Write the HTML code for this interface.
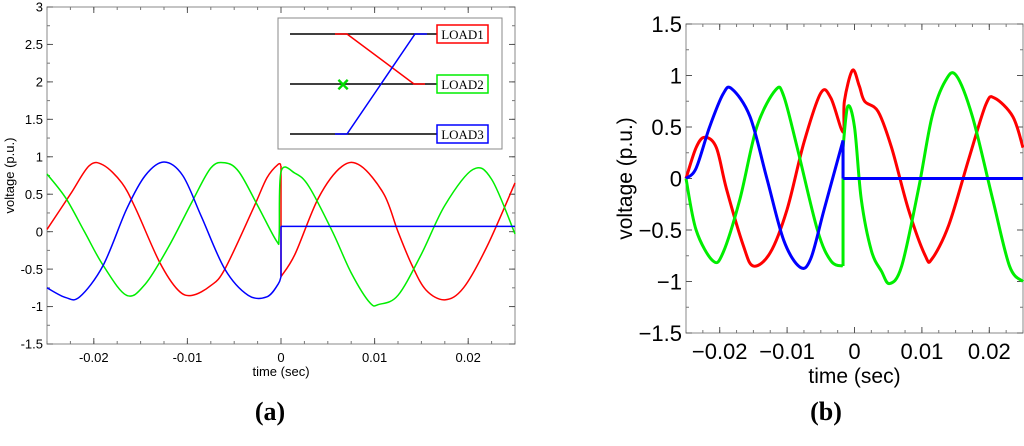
<!DOCTYPE html>
<html><head><meta charset="utf-8"><style>
body{margin:0;background:#fff;}
svg{display:block;font-family:"Liberation Sans",sans-serif;}
</style></head><body>
<svg id="c" width="1024" height="446"></svg>
<script>
const xTicks=[-0.02,-0.01,0,0.01,0.02];
const xTickLabelsA=["-0.02","-0.01","0","0.01","0.02"];
const yTicksA=[-1.5,-1,-0.5,0,0.5,1,1.5,2,2.5,3];
const yTickLabelsA=["-1.5","-1","-0.5","0","0.5","1","1.5","2","2.5","3"];
const yTicksB=[-1.5,-1,-0.5,0,0.5,1,1.5];
const yTickLabelsB=["\u22121.5","\u22121","\u22120.5","0","0.5","1","1.5"];
const xTickLabelsB=["\u22120.02","\u22120.01","0","0.01","0.02"];
const aRedT=[-0.025,-0.0225,-0.0205,-0.019,-0.017,-0.0155,-0.013,-0.011,-0.0095,-0.0075,-0.006,-0.003,-0.0015,-0.0003,0,0,0.0015,0.004,0.0065,0.0085,0.011,0.0125,0.014,0.0155,0.0175,0.0195,0.022,0.025];
const aRedV=[0.03,0.5,0.88,0.89,0.65,0.3,-0.4,-0.78,-0.85,-0.72,-0.5,0.3,0.72,0.9,0.88,-0.6,-0.3,0.45,0.87,0.88,0.5,0.0,-0.45,-0.78,-0.91,-0.75,-0.2,0.65];
const aGreenT=[-0.025,-0.023,-0.021,-0.019,-0.0165,-0.0145,-0.012,-0.0095,-0.0075,-0.006,-0.0045,-0.0025,-0.0005,-0.0002,0,0.0015,0.003,0.0055,0.0075,0.0095,0.0105,0.0125,0.015,0.0175,0.0205,0.0225,0.025];
const aGreenV=[0.77,0.45,0.0,-0.45,-0.85,-0.7,-0.2,0.4,0.85,0.92,0.8,0.35,-0.12,-0.05,0.8,0.78,0.6,0.0,-0.55,-0.95,-0.97,-0.85,-0.3,0.35,0.83,0.7,-0.03];
const aBlueT=[-0.025,-0.023,-0.0215,-0.019,-0.0165,-0.0145,-0.0125,-0.0105,-0.0085,-0.006,-0.0035,-0.0015,-0.0003,0,0,0.025];
const aBlueV=[-0.75,-0.88,-0.87,-0.45,0.3,0.75,0.93,0.75,0.2,-0.5,-0.85,-0.87,-0.7,-0.6,0.07,0.07];
const bRedT=[-0.025,-0.0235,-0.0222,-0.0205,-0.019,-0.0165,-0.015,-0.0125,-0.01,-0.0075,-0.005,-0.0035,-0.0017,-0.0015,-0.0003,0.0007,0.0015,0.0035,0.0055,0.008,0.0105,0.0115,0.014,0.017,0.0195,0.0208,0.0235,0.025];
const bRedV=[0.0,0.3,0.4,0.3,-0.1,-0.65,-0.85,-0.72,-0.3,0.35,0.83,0.78,0.45,0.75,1.05,0.9,0.75,0.65,0.3,-0.3,-0.75,-0.78,-0.45,0.2,0.72,0.78,0.6,0.3];
const bGreenT=[-0.025,-0.0235,-0.021,-0.0195,-0.017,-0.0145,-0.0117,-0.0105,-0.0085,-0.0055,-0.0035,-0.0017,-0.0017,-0.001,0.0,0.001,0.0025,0.004,0.0052,0.007,0.0095,0.0115,0.0135,0.0151,0.0175,0.0205,0.023,0.025];
const bGreenV=[0.0,-0.5,-0.8,-0.72,-0.2,0.5,0.86,0.8,0.3,-0.5,-0.8,-0.85,0.3,0.7,0.5,-0.2,-0.7,-0.9,-1.02,-0.85,-0.1,0.6,0.95,1.0,0.6,-0.2,-0.85,-1.0];
const bBlueT=[-0.025,-0.0235,-0.0215,-0.0195,-0.0182,-0.0155,-0.013,-0.0105,-0.0081,-0.0065,-0.0045,-0.0017,-0.0017,0.025];
const bBlueV=[0.0,0.1,0.5,0.82,0.87,0.6,0.0,-0.6,-0.86,-0.78,-0.3,0.37,0.0,0.0];

const NS="http://www.w3.org/2000/svg";
const svg=document.getElementById('c');
function mk(tag,attrs,parent){const e=document.createElementNS(NS,tag);for(const k in attrs)e.setAttribute(k,attrs[k]);(parent||svg).appendChild(e);return e;}
function smoothPath(pts){
  // split at vertical jumps
  let d="";let segs=[];let cur=[pts[0]];
  for(let i=1;i<pts.length;i++){if(Math.abs(pts[i][0]-pts[i-1][0])<0.01){segs.push(cur);cur=[pts[i-1],pts[i]];segs.push(cur);cur=[pts[i]];}else cur.push(pts[i]);}
  segs.push(cur);
  segs.forEach(s=>{if(s.length<2)return;d+="M"+s[0][0]+","+s[0][1];
    for(let i=0;i<s.length-1;i++){const p0=s[Math.max(0,i-1)],p1=s[i],p2=s[i+1],p3=s[Math.min(s.length-1,i+2)];
      if(s.length===2){d+="L"+p2[0]+","+p2[1];continue;}
      const c1=[p1[0]+(p2[0]-p0[0])/6,p1[1]+(p2[1]-p0[1])/6],c2=[p2[0]-(p3[0]-p1[0])/6,p2[1]-(p3[1]-p1[1])/6];
      d+="C"+c1+" "+c2+" "+p2[0]+","+p2[1];}});
  return d;}
function panel(o){
  const g=mk('g',{});
  const X=t=>o.x0+(t+0.025)/0.05*(o.x1-o.x0);
  const Y=v=>o.y1-(v-o.ymin)/(o.ymax-o.ymin)*(o.y1-o.y0);
  mk('rect',{x:o.x0,y:o.y0,width:o.x1-o.x0,height:o.y1-o.y0,fill:'none',stroke:'#888','stroke-width':1},g);
  // minor ticks
  for(let t=-0.025;t<=0.0251;t+=0.0025){const x=X(t);mk('line',{x1:x,x2:x,y1:o.y1,y2:o.y1-3,stroke:'#777'},g);mk('line',{x1:x,x2:x,y1:o.y0,y2:o.y0+3,stroke:'#777'},g);}
  for(let v=o.ymin;v<=o.ymax+1e-9;v+=0.25){const y=Y(v);mk('line',{x1:o.x0,x2:o.x0+3,y1:y,y2:y,stroke:'#777'},g);mk('line',{x1:o.x1,x2:o.x1-3,y1:y,y2:y,stroke:'#777'},g);}
  xTicks.forEach((t,i)=>{const x=X(t);mk('line',{x1:x,x2:x,y1:o.y1,y2:o.y1-6,stroke:'#555'},g);mk('line',{x1:x,x2:x,y1:o.y0,y2:o.y0+6,stroke:'#555'},g);
    const tx=mk('text',{x:x,y:o.y1+o.xlOff,'font-size':o.fs,'text-anchor':'middle',fill:'#000'},g);tx.textContent=o.xl[i];
    });
  o.yt.forEach((v,i)=>{const y=Y(v);mk('line',{x1:o.x0,x2:o.x0+6,y1:y,y2:y,stroke:'#555'},g);mk('line',{x1:o.x1,x2:o.x1-6,y1:y,y2:y,stroke:'#555'},g);
    const tx=mk('text',{x:o.x0-4,y:y+o.fs*0.36,'font-size':o.fs,'text-anchor':'end',fill:'#000'},g);tx.textContent=o.yl[i];
    });
  const xt=mk('text',{x:(o.x0+o.x1)/2,y:o.xtY,'font-size':o.tfs,'text-anchor':'middle'},g);xt.textContent='time (sec)';
  
  const yt=mk('text',{x:0,y:0,'font-size':o.tfs,'text-anchor':'middle',transform:`translate(${o.ytX},${(o.y0+o.y1)/2}) rotate(-90)`},g);yt.textContent='voltage (p.u.)';
  
  o.series.forEach(s=>{const pts=s.t.map((t,i)=>[+X(t).toFixed(2),+Y(s.v[i]).toFixed(2)]);
    const p=mk('path',{d:smoothPath(pts),fill:'none',stroke:s.c,'stroke-width':o.lw,'stroke-linejoin':'round'},g);
    });
  return g;}
panel({name:'chart-a',x0:47,x1:515,y0:7,y1:344,ymin:-1.5,ymax:3,yt:yTicksA,yl:yTickLabelsA,xl:xTickLabelsA,fs:13,tfs:13,xlOff:18,xtY:376,ytX:14,lw:1.5,
  series:[{t:aRedT,v:aRedV,c:'#f00',n:'load1-line'},{t:aGreenT,v:aGreenV,c:'#0e0',n:'load2-line'},{t:aBlueT,v:aBlueV,c:'#00f',n:'load3-line'}]});
panel({name:'chart-b',x0:686,x1:1023,y0:24,y1:333,ymin:-1.5,ymax:1.5,yt:yTicksB,yl:yTickLabelsB,xl:xTickLabelsB,fs:22,tfs:21,xlOff:26,xtY:383,ytX:632,lw:3,
  series:[{t:bRedT,v:bRedV,c:'#f00',n:'load1-line'},{t:bGreenT,v:bGreenV,c:'#0e0',n:'load2-line'},{t:bBlueT,v:bBlueV,c:'#00f',n:'load3-line'}]});
// inset
const ins=mk('g',{});
mk('rect',{x:278,y:18,width:224,height:131,fill:'#fff',stroke:'#888','stroke-width':1},ins);
[34,84,134].forEach(y=>mk('line',{x1:290,x2:437,y1:y,y2:y,stroke:'#000','stroke-width':1.5},ins));
mk('polyline',{points:'335,34 347,34 414,84 425,84',fill:'none',stroke:'#f00','stroke-width':1.5},ins);
mk('polyline',{points:'335,134 347,134 415,34 427,34',fill:'none',stroke:'#00f','stroke-width':1.5},ins);
const xm=mk('text',{x:343,y:92,'font-size':22,'font-weight':'bold','text-anchor':'middle',fill:'#0d0'},ins);xm.textContent='\u00d7';

[['LOAD1',34,'#f00'],['LOAD2',84,'#0e0'],['LOAD3',134,'#00f']].forEach(([t,y,c])=>{
  mk('rect',{x:437,y:y-9,width:51,height:18,fill:'#fff',stroke:c,'stroke-width':1.5},ins);
  const tx=mk('text',{x:462.5,y:y+5,'font-size':13,'text-anchor':'middle','font-family':'Liberation Serif, serif'},ins);tx.textContent=t;
  });
[['(a)',270,'label-a'],['(b)',826,'label-b']].forEach(([t,x,n])=>{const tx=mk('text',{x:x,y:420,'font-size':26,'font-weight':'bold','text-anchor':'middle','font-family':'Liberation Serif, serif'});
  tx.textContent=t;});
</script>
</body></html>
